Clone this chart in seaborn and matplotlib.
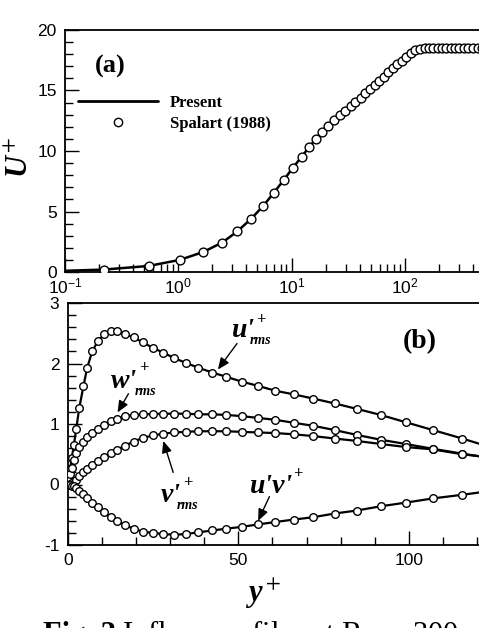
import matplotlib
matplotlib.use('Agg')
import matplotlib.pyplot as plt
import seaborn as sns
from matplotlib.lines import Line2D
from matplotlib.ticker import MultipleLocator, LogLocator, NullFormatter

# (a) mean velocity, log y+
present_yp = [0.1, 0.22, 0.55, 1.03, 1.66, 2.44, 3.32, 4.38, 5.62, 6.99, 8.56, 10.3, 12.3, 14.2,
              16.4, 18.6, 21.1, 23.8, 26.7, 29.9, 33.4, 40.9, 49.4, 59.4, 71.8, 86.1, 103.5,
              113, 124, 136, 150, 200, 300, 600]
present_u = [0.1, 0.2, 0.5, 1.0, 1.65, 2.43, 3.35, 4.38, 5.45, 6.56, 7.61, 8.63, 9.52, 10.29,
             11.0, 11.6, 12.09, 12.53, 12.95, 13.33, 13.72, 14.41, 15.13, 15.82, 16.49, 17.15, 17.79,
             18.12, 18.34, 18.45, 18.48, 18.5, 18.5, 18.5]
spalart_yp = [0.222, 0.551, 1.03, 1.66, 2.44, 3.32, 4.38, 5.62, 6.99, 8.56, 10.3, 12.3, 14.2, 16.4,
              18.6, 21.1, 23.8, 26.7, 29.9, 33.4, 36.7, 40.9, 45.0, 49.4, 54.4, 59.4, 65.3, 71.8,
              78.9, 86.1, 94.7, 103.5, 113, 124, 136, 150, 164, 179, 196, 213, 233, 255, 278, 304,
              332, 362, 401, 440, 480]
spalart_u = [0.19, 0.50, 1.02, 1.66, 2.43, 3.35, 4.38, 5.45, 6.56, 7.61, 8.63, 9.52, 10.29, 11.0,
             11.6, 12.09, 12.53, 12.95, 13.33, 13.72, 14.05, 14.41, 14.77, 15.13, 15.46, 15.82, 16.15,
             16.49, 16.82, 17.15, 17.46, 17.79, 18.12, 18.34, 18.45, 18.48, 18.5, 18.5, 18.5, 18.5,
             18.5, 18.5, 18.5, 18.5, 18.5, 18.5, 18.5, 18.5, 18.5]

# (b) turbulence intensities, linear y+
yp_b = [0, 0.3, 0.7, 1.2, 1.8, 2.5, 3.4, 4.6, 5.7, 7.2, 8.8, 10.7, 12.6, 14.3, 16.7, 19.3, 22.0,
        24.9, 28.0, 31.2, 34.6, 38.3, 42.4, 46.5, 51.0, 55.8, 60.8, 66.2, 72.0, 78.2, 84.7, 91.7,
        99.0, 107.0, 115.6, 124.8]
u_rms = [0, 0.11, 0.26, 0.44, 0.65, 0.92, 1.27, 1.62, 1.93, 2.2, 2.37, 2.48, 2.53, 2.53, 2.49, 2.43,
         2.35, 2.26, 2.18, 2.09, 2.01, 1.93, 1.85, 1.78, 1.70, 1.63, 1.55, 1.49, 1.42, 1.34, 1.25,
         1.15, 1.03, 0.90, 0.76, 0.60]
w_rms = [0, 0.08, 0.17, 0.28, 0.40, 0.52, 0.62, 0.71, 0.78, 0.85, 0.92, 0.99, 1.05, 1.09, 1.13,
         1.15, 1.16, 1.165, 1.17, 1.17, 1.17, 1.16, 1.16, 1.15, 1.13, 1.10, 1.07, 1.02, 0.97, 0.90,
         0.82, 0.74, 0.67, 0.59, 0.51, 0.43]
v_rms = [0, 0.0, 0.01, 0.02, 0.05, 0.08, 0.14, 0.20, 0.25, 0.32, 0.39, 0.45, 0.52, 0.57, 0.64,
         0.71, 0.77, 0.81, 0.84, 0.86, 0.87, 0.88, 0.88, 0.88, 0.87, 0.86, 0.85, 0.83, 0.80, 0.76,
         0.72, 0.67, 0.62, 0.58, 0.50, 0.44]
uv = [0, 0.0, -0.01, -0.02, -0.03, -0.05, -0.10, -0.16, -0.22, -0.31, -0.38, -0.46, -0.54, -0.60,
      -0.67, -0.73, -0.78, -0.80, -0.82, -0.83, -0.82, -0.79, -0.76, -0.73, -0.70, -0.66, -0.62,
      -0.58, -0.54, -0.48, -0.43, -0.36, -0.30, -0.23, -0.17, -0.10]

sns.set_style('ticks', {'axes.edgecolor': 'black', 'xtick.color': 'black', 'ytick.color': 'black',
                        'text.color': 'black', 'axes.labelcolor': 'black'})
plt.rcParams['font.family'] = ['Liberation Sans', 'DejaVu Sans']
plt.rcParams['axes.linewidth'] = 1.3
plt.rcParams['axes.unicode_minus'] = False

serif = dict(family='Liberation Serif', weight='bold')
serif_it = dict(family='Liberation Serif', weight='bold', style='italic')

fig = plt.figure(figsize=(4.79, 6.28), dpi=100)
ax1 = fig.add_axes([65 / 479, 356 / 628, 453 / 479, 242 / 628])
ax2 = fig.add_axes([67.7 / 479, 83 / 628, 443.7 / 479, 242 / 628])

# ---- panel (a)
ax1.set_xscale('log')
sns.lineplot(x=present_yp, y=present_u, ax=ax1, color='black', lw=1.8, estimator=None, sort=False)
sns.scatterplot(x=spalart_yp, y=spalart_u, ax=ax1, marker='o', s=40, facecolor='white',
                edgecolor='black', linewidth=1.0, zorder=3)
ax1.set_xlim(0.1, 1000)
ax1.set_ylim(0, 20)
ax1.yaxis.set_major_locator(MultipleLocator(5))
ax1.yaxis.set_minor_locator(MultipleLocator(1))
ax1.xaxis.set_minor_locator(LogLocator(base=10, subs=range(2, 10)))
ax1.xaxis.set_minor_formatter(NullFormatter())
ax1.set_ylabel('U$^+$', fontsize=22, math_fontfamily='stix', **serif_it)
ax1.yaxis.set_label_coords(-0.066, 0.475)
ax1.text(0.066, 0.822, '(a)', transform=ax1.transAxes, fontsize=19, **serif)
handles = [Line2D([], [], color='black', lw=2),
           Line2D([], [], ls='none', marker='o', mfc='white', mec='black', ms=6, mew=1)]
ax1.legend(handles, ['Present', 'Spalart (1988)'], loc='upper left', bbox_to_anchor=(0.028, 0.732),
           frameon=False, handlelength=4.8, handletextpad=0.75, labelspacing=0.3,
           borderpad=0, borderaxespad=0, prop=dict(size=12, **serif))

# ---- panel (b)
for vals in [u_rms, w_rms, v_rms, uv]:
    sns.lineplot(x=yp_b, y=vals, ax=ax2, color='black', lw=1.6, estimator=None, sort=False)
    sns.scatterplot(x=yp_b, y=vals, ax=ax2, marker='o', s=30, facecolor='white',
                    edgecolor='black', linewidth=1.0, zorder=3)
ax2.set_xlim(0, 130)
ax2.set_ylim(-1, 3)
ax2.xaxis.set_major_locator(MultipleLocator(50))
ax2.xaxis.set_minor_locator(MultipleLocator(10))
ax2.yaxis.set_major_locator(MultipleLocator(1))
ax2.yaxis.set_minor_locator(MultipleLocator(0.2))
ax2.set_xlabel('y$^+$', fontsize=22, math_fontfamily='stix', **serif_it)
ax2.xaxis.set_label_coords(0.44, -0.13)
ax2.text(0.756, 0.812, '(b)', transform=ax2.transAxes, fontsize=20, **serif)


def flabel(ax, x, y, main, sup, sup_off, sub=None, sub_off=None):
    ax.text(x, y, main, fontsize=20, va='baseline', **serif_it)
    ax.annotate(sup, (x, y), xytext=sup_off, textcoords='offset points', fontsize=12,
                va='baseline', **serif)
    if sub:
        ax.annotate(sub, (x, y), xytext=sub_off, textcoords='offset points', fontsize=10,
                    va='baseline', **serif_it)


arrow = dict(arrowstyle='-|>,head_length=0.7,head_width=0.3', color='black', lw=1.0,
             shrinkA=0, shrinkB=0)
flabel(ax2, 48.0, 2.43, "u'", '+', (18, 10), 'rms', (13, -5))
ax2.annotate('', xy=(44.0, 1.90), xytext=(49.6, 2.33), arrowprops=arrow)
flabel(ax2, 12.8, 1.60, "w'", '+', (20, 11), 'rms', (17, -5))
ax2.annotate('', xy=(14.6, 1.19), xytext=(17.8, 1.50), arrowprops=arrow)
flabel(ax2, 27.2, -0.29, "v'", '+', (16, 11), 'rms', (12, -5))
ax2.annotate('', xy=(28.0, 0.72), xytext=(30.9, 0.20), arrowprops=arrow)
flabel(ax2, 53.5, -0.14, "u'v'", '+', (31, 11))
ax2.annotate('', xy=(55.8, -0.60), xytext=(59.1, -0.20), arrowprops=arrow)

for ax in (ax1, ax2):
    ax.tick_params(which='both', direction='in', top=False, right=False, labelsize=12.5, pad=6)
    ax.tick_params(which='major', length=10, width=1.0)
    ax.tick_params(which='minor', length=5.5, width=1.0)
ax1.tick_params(axis='x', which='both', pad=3)

# caption (cut off at the bottom of the page image)
fig.text(43 / 479, -0.024, 'Fig. 2', fontsize=22, va='baseline', **serif)
fig.text(122 / 479, -0.024, r'Inflow profiles at Re$_{\theta}$ =300', fontsize=22,
         va='baseline', family='Liberation Serif', math_fontfamily='stix')

fig.savefig('out.png', dpi=100)
